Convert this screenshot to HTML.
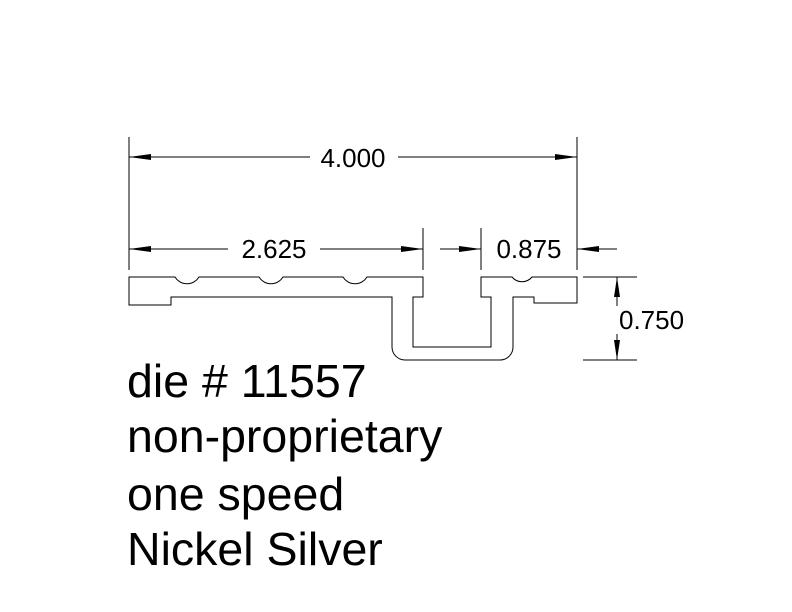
<!DOCTYPE html>
<html><head><style>
html,body{margin:0;padding:0;background:#fff}
svg{display:block}
text{font-family:"Liberation Sans",Arial,sans-serif;fill:#000}
</style></head><body>
<svg width="792" height="612" viewBox="0 0 792 612" xmlns="http://www.w3.org/2000/svg">
<g stroke="#000" stroke-width="1" fill="none">
<path d="M129,277 H175 A14,14 0 0 0 199,277 H259 A14,14 0 0 0 283,277 H343 A14,14 0 0 0 367,277 H423 V297 H413 V347 H491 V297 H481 V277 H512 A13,13 0 0 0 532,277 H577 V303 H534 V297 H513 V347 A13,13 0 0 1 500,360 H405 A13,13 0 0 1 392,347 V297 H171 V305 H129 Z"/>
<path d="M129,137 V270 M577,137 V270 M423,228 V270 M481,228 V270 M583,277 H637 M583,360 H637"/>
<path d="M129,157 H310 M398,157 H577 M129,249 H228 M320,249 H423 M440,249 H481 M577,249 H617 M617,277 V306 M617,334 V360"/>
</g>
<g fill="#000">
<polygon points="129,157 151,154 151,160"/>
<polygon points="577,157 555,154 555,160"/>
<polygon points="129,249 151,246 151,252"/>
<polygon points="423,249 401,246 401,252"/>
<polygon points="481,249 459,246 459,252"/>
<polygon points="577,249 599,246 599,252"/>
<polygon points="617,277 614,297 620,297"/>
<polygon points="617,360 614,340 620,340"/>
</g>
<g font-size="26">
<text x="353" y="167" text-anchor="middle">4.000</text>
<text x="274" y="258" text-anchor="middle">2.625</text>
<text x="529" y="258" text-anchor="middle">0.875</text>
<text x="619" y="329">0.750</text>
</g>
<g font-size="46.5">
<text x="127" y="397">die # 11557</text>
<text x="127" y="452">non-proprietary</text>
<text x="127" y="510">one speed</text>
<text x="127" y="565">Nickel Silver</text>
</g>
</svg>
</body></html>
